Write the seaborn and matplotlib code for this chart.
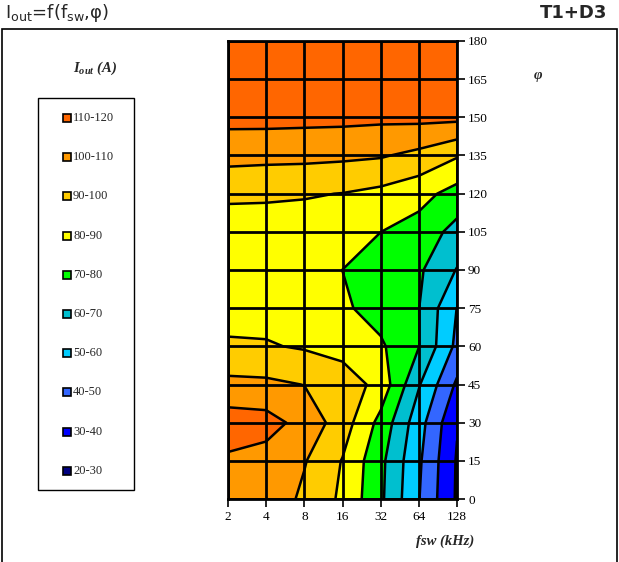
import matplotlib
matplotlib.use("Agg")
import matplotlib.pyplot as plt
from matplotlib.patches import Rectangle
import numpy as np
import seaborn as sns

# Switching frequency (kHz), log2-spaced, and phase angle (deg)
freq_khz = [2, 4, 8, 16, 32, 64, 128]
phi_deg = [0, 15, 30, 45, 60, 75, 90, 105, 120, 135, 150, 165, 180]

# Output current I_out (A) per frequency, listed over phi_deg
iout_2k = [107.5, 108.5, 115.0, 102.6, 91.2, 86.5, 86.0, 86.5, 91.3, 103.6, 112.9, 115.0, 116.0]
iout_4k = [107.0, 106.0, 113.9, 102.0, 90.8, 86.5, 86.0, 86.5, 91.1, 102.9, 113.1, 115.0, 116.0]
iout_8k = [97.9, 100.7, 106.5, 99.8, 89.0, 86.5, 85.5, 86.0, 90.7, 102.6, 112.8, 115.0, 116.0]
iout_16k = [88.2, 89.5, 95.0, 96.0, 86.0, 81.6, 79.95, 84.5, 89.8, 101.9, 112.65, 115.0, 116.0]
iout_32k = [71.9, 72.5, 76.9, 86.5, 81.5, 76.0, 75.0, 80.05, 87.5, 100.9, 112.1, 115.0, 116.0]
iout_64k = [50.4, 51.6, 54.1, 60.8, 70.3, 70.2, 71.5, 76.0, 83.5, 97.4, 112.6, 115.0, 116.0]
iout_128k = [28.7, 29.1, 30.8, 38.3, 47.5, 49.8, 59.5, 66.6, 76.2, 90.9, 112.5, 115.0, 116.0]

# Contour bands (A), from low to high
level_edges = [20, 30, 40, 50, 60, 70, 80, 90, 100, 110, 120]
band_labels = ["20-30", "30-40", "40-50", "50-60", "60-70",
               "70-80", "80-90", "90-100", "100-110", "110-120"]
band_colors = ["#000080", "#0000FF", "#3366FF", "#00CCFF", "#00BFCF",
               "#00FF00", "#FFFF00", "#FFCC00", "#FF9900", "#FF6600"]

sns.set_theme(style="white")
plt.rcParams["font.family"] = ["DejaVu Sans"]
serif = "Liberation Serif"

W, H = 619, 562
fig = plt.figure(figsize=(W / 100, H / 100), dpi=100)


def fx(px):
    return px / W


def fy(py):
    return 1 - py / H


ax = fig.add_axes([fx(228), fy(499), (457 - 228) / W, (499 - 41) / H])

grid_x = np.arange(len(freq_khz))
Z = np.array([iout_2k, iout_4k, iout_8k, iout_16k,
              iout_32k, iout_64k, iout_128k]).T

palette = sns.color_palette(band_colors)
ax.contourf(grid_x, phi_deg, Z, levels=level_edges, colors=palette)
ax.contour(grid_x, phi_deg, Z, levels=level_edges[1:-1],
           colors="black", linewidths=1.8)

ax.set_xlim(0, len(freq_khz) - 1)
ax.set_ylim(0, 180)
ax.set_xticks(grid_x)
ax.set_xticklabels([str(f) for f in freq_khz], fontfamily=serif, fontsize=9.5)
ax.set_yticks(phi_deg)
ax.set_yticklabels([str(p) for p in phi_deg], fontfamily=serif, fontsize=9.5)
ax.yaxis.tick_right()
ax.tick_params(axis="y", left=False, right=True, labelleft=False,
               labelright=True, direction="out", length=6, width=1.2,
               color="black", labelcolor="black", pad=2)
ax.tick_params(axis="x", bottom=True, top=False, direction="out", length=6,
               width=1.2, color="black", labelcolor="black", pad=3)
ax.grid(True, color="black", linewidth=2.0)
ax.set_axisbelow(False)
for sp in ax.spines.values():
    sp.set_color("black")
    sp.set_linewidth(2.0)
    sp.set_zorder(3)

# Axis titles
fig.text(fx(445), fy(541), "fsw (kHz)", fontfamily=serif, fontsize=10.5,
         fontweight="bold", fontstyle="italic", ha="center", va="center")
fig.text(fx(538), fy(75), "φ", fontfamily=serif, fontsize=10.5,
         fontweight="bold", fontstyle="italic", ha="center", va="center")

# Header
fig.text(fx(5), fy(13), r"I$_{\mathregular{out}}$=f(f$_{\mathregular{sw}}$,φ)",
         fontsize=13, ha="left", va="center")
fig.text(fx(607), fy(13), "T1+D3", fontsize=13, fontweight="bold",
         ha="right", va="center")

# Outer frame
fig.patches.append(Rectangle((fx(2), -0.02), (617 - 2) / W, fy(29) + 0.02,
                             transform=fig.transFigure, fill=False,
                             edgecolor="black", linewidth=1.2))

# Legend
fig.text(fx(95), fy(68), r"$\mathregular{I_{out}}$ (A)", fontfamily=serif,
         fontsize=10.5, fontweight="bold", fontstyle="italic",
         ha="center", va="center")
fig.patches.append(Rectangle((fx(38), fy(490)), (134 - 38) / W, (490 - 98) / H,
                             transform=fig.transFigure, fill=False,
                             edgecolor="black", linewidth=1.0))
entry_top, entry_step = 118, 39.2
for k, (lab, col) in enumerate(zip(band_labels[::-1], band_colors[::-1])):
    yc = entry_top + k * entry_step
    fig.patches.append(Rectangle((fx(63), fy(yc + 4)), 8 / W, 8 / H,
                                 transform=fig.transFigure, facecolor=col,
                                 edgecolor="black", linewidth=1.2))
    fig.text(fx(73), fy(yc), lab, fontfamily=serif, fontsize=9,
             ha="left", va="center")

fig.savefig("out.png", dpi=100)
